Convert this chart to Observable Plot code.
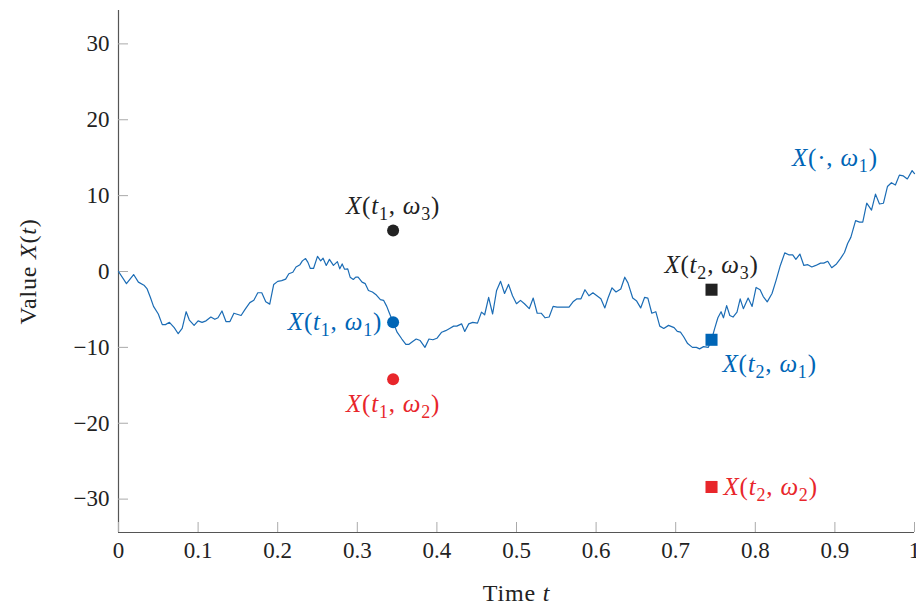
<!DOCTYPE html>
<html><head><meta charset="utf-8">
<script src="https://cdn.jsdelivr.net/npm/d3@7"></script>
<script src="https://cdn.jsdelivr.net/npm/@observablehq/plot@0.6"></script>
<style>body{margin:0;background:#fff}</style>
</head><body><div id="chart"></div>
<script>
// Sample path X(·, ω1)
const pathT = [0,0.010,0.019,0.025,0.032,0.036,0.040,0.044,0.050,0.055,
0.059,0.064,0.070,0.075,0.080,0.085,0.089,0.095,0.100,0.105,
0.110,0.116,0.121,0.125,0.130,0.135,0.140,0.145,0.154,0.159,
0.165,0.170,0.175,0.180,0.185,0.190,0.195,0.200,0.205,0.210,
0.214,0.219,0.223,0.228,0.231,0.235,0.238,0.241,0.245,0.250,
0.254,0.257,0.261,0.265,0.270,0.275,0.278,0.281,0.284,0.288,
0.291,0.295,0.298,0.301,0.306,0.310,0.314,0.319,0.324,0.329,
0.333,0.337,0.340,0.345,0.350,0.356,0.361,0.365,0.370,0.374,
0.379,0.385,0.390,0.395,0.400,0.406,0.411,0.416,0.421,0.425,
0.431,0.435,0.440,0.445,0.451,0.456,0.460,0.465,0.470,0.475,
0.480,0.485,0.490,0.495,0.500,0.505,0.510,0.516,0.521,0.526,
0.531,0.536,0.541,0.546,0.551,0.556,0.561,0.566,0.571,0.576,
0.581,0.586,0.591,0.596,0.601,0.606,0.611,0.615,0.620,0.625,
0.631,0.636,0.640,0.646,0.651,0.656,0.661,0.665,0.670,0.675,
0.680,0.685,0.691,0.698,0.702,0.706,0.710,0.715,0.721,0.726,
0.730,0.735,0.741,0.745,0.749,0.753,0.757,0.760,0.764,0.768,
0.772,0.777,0.781,0.785,0.791,0.796,0.801,0.806,0.810,0.815,
0.821,0.826,0.831,0.837,0.842,0.847,0.851,0.856,0.861,0.866,
0.871,0.876,0.882,0.886,0.891,0.896,0.902,0.907,0.912,0.916,
0.920,0.926,0.931,0.935,0.940,0.946,0.951,0.956,0.961,0.966,
0.971,0.976,0.981,0.986,0.991,0.997,1.0];
const pathV = [0,-1.6,-0.4,-1.4,-1.8,-2.3,-3.4,-4.6,-5.6,-7.0,
-7.0,-6.7,-7.4,-8.2,-7.5,-5.3,-6.4,-7.1,-6.5,-6.7,
-6.5,-6.0,-6.3,-6.1,-5.2,-6.6,-6.6,-5.5,-5.8,-5.0,
-4.1,-3.8,-2.8,-2.8,-4.0,-4.3,-1.7,-1.3,-1.2,-1.0,
-0.3,-0.1,0.6,0.9,1.4,1.7,1.2,0.4,0.4,2.0,
1.4,1.75,0.8,1.6,0.8,1.3,0.35,1.0,0.3,0.35,
-0.75,-1.05,-0.75,-0.75,-1.4,-1.6,-2.5,-2.7,-3.1,-3.7,
-3.8,-4.6,-5.4,-6.7,-8.0,-8.9,-9.6,-9.6,-9.2,-8.9,
-9.1,-10.0,-8.9,-9.0,-8.8,-8.0,-7.8,-7.5,-7.2,-7.2,
-6.9,-7.9,-6.9,-6.7,-6.8,-5.35,-5.7,-3.4,-5.6,-2.5,
-1.3,-2.9,-1.7,-3.2,-4.25,-3.8,-4.25,-4.9,-3.5,-5.5,
-5.5,-6.1,-6.0,-4.6,-4.7,-4.7,-4.7,-4.7,-4.0,-3.6,
-3.6,-2.4,-3.2,-2.8,-3.2,-3.6,-4.8,-3.5,-2.15,-2.7,
-2.3,-0.75,-1.5,-3.5,-3.9,-4.8,-3.4,-3.5,-5.5,-5.3,
-7.2,-7.5,-7.1,-7.4,-7.9,-8.0,-8.6,-9.5,-10.0,-10.0,
-10.2,-9.9,-10.0,-9.0,-7.5,-6.1,-5.3,-6.1,-4.5,-5.8,
-6.0,-5.35,-3.6,-4.9,-3.5,-4.6,-2.1,-2.4,-3.3,-4.0,
-2.9,-1.2,0.65,2.45,2.2,2.2,1.6,2.3,0.8,0.9,
0.6,0.8,1.1,1.1,1.35,0.5,1.0,1.7,2.5,3.7,
4.5,6.7,6.5,6.5,9.0,8.1,10.2,8.9,9.0,11.2,
11.7,11.4,12.7,12.6,12.2,13.3,12.9];

// Highlighted values X(t_i, ω_j)
const markerT = [0.345, 0.345, 0.345, 0.745, 0.745, 0.745];
const markerV = [5.4, -6.7, -14.2, -2.4, -9.0, -28.4];
const markerOmega = ["ω3", "ω1", "ω2", "ω3", "ω1", "ω2"];
const markerShape = ["circle", "circle", "circle", "square", "square", "square"];
const markerLabel = ["X(t₁, ω₃)", "X(t₁, ω₁)", "X(t₁, ω₂)", "X(t₂, ω₃)", "X(t₂, ω₁)", "X(t₂, ω₂)"];
const markerPlacement = ["above", "left", "below", "above", "belowright", "right"];

// Path label
const pathLabel = ["X(·, ω₁)"];
const pathLabelT = [0.9];
const pathLabelV = [15];

// Axes
const xTicks = [0, 0.1, 0.2, 0.3, 0.4, 0.5, 0.6, 0.7, 0.8, 0.9, 1];
const yTicks = [-30, -20, -10, 0, 10, 20, 30];
const xLabel = "Time t";
const yLabel = "Value X(t)";

const colors = {ω1: "#0065b6", ω2: "#e8262b", ω3: "#222222"};
const lineColor = "#1b6cb5";

const path = pathT.map((t, i) => ({t, v: pathV[i]}));
const markers = markerT.map((t, i) => ({t, v: markerV[i], omega: markerOmega[i], shape: markerShape[i], label: markerLabel[i], place: markerPlacement[i]}));
const pathLabels = pathLabel.map((l, i) => ({label: l, t: pathLabelT[i], v: pathLabelV[i]}));

const yDomain = [-34.4, 34.4];
const labelFont = 25;
const tickFont = 23;
const axisFont = 24;
const col = d => colors[d.omega];
const placed = p => markers.filter(d => d.place === p);

const chart = Plot.plot({
  width: 916,
  height: 605,
  marginLeft: 118,
  marginRight: 2,
  marginTop: 10,
  marginBottom: 73,
  style: {fontFamily: "'Liberation Serif', serif", fontSize: "22px", background: "white", color: "#222"},
  x: {domain: [0, 1]},
  y: {domain: yDomain},
  marks: [
    Plot.ruleX([0], {stroke: "#555", strokeWidth: 1.2}),
    Plot.ruleY([yDomain[0]], {stroke: "#555", strokeWidth: 1.2}),
    Plot.axisY({ticks: yTicks, tickSize: 10, text: null, dx: 10, stroke: "#aaa", label: null}),
    Plot.axisY({ticks: yTicks, tickSize: 0, tickPadding: 9, fontSize: tickFont, fill: "#222", label: null}),
    Plot.axisX({ticks: xTicks, tickSize: 10, text: null, dy: -10, stroke: "#aaa", label: null}),
    Plot.axisX({ticks: xTicks, tickSize: 0, tickPadding: 9, fontSize: tickFont, fill: "#222", tickFormat: d3.format("~g"), label: null}),
    Plot.line(path, {x: "t", y: "v", stroke: lineColor, strokeWidth: 1.2}),
    Plot.dot(markers.filter(d => d.shape === "circle"), {x: "t", y: "v", fill: col, r: 6, symbol: "circle"}),
    Plot.dot(markers.filter(d => d.shape === "square"), {x: "t", y: "v", fill: col, r: 6.8, symbol: "square"}),
    Plot.text(placed("above"), {x: "t", y: "v", text: "label", fill: col, dy: -25, fontSize: labelFont}),
    Plot.text(placed("below"), {x: "t", y: "v", text: "label", fill: col, dy: 25, fontSize: labelFont}),
    Plot.text(placed("left"), {x: "t", y: "v", text: "label", fill: col, dx: -11, textAnchor: "end", fontSize: labelFont}),
    Plot.text(placed("right"), {x: "t", y: "v", text: "label", fill: col, dx: 12, textAnchor: "start", fontSize: labelFont}),
    Plot.text(placed("belowright"), {x: "t", y: "v", text: "label", fill: col, dx: 11, dy: 24, textAnchor: "start", fontSize: labelFont}),
    Plot.text(pathLabels, {x: "t", y: "v", text: "label", fill: colors.ω1, fontSize: labelFont}),
    Plot.text([yLabel], {text: d => d, frameAnchor: "left", textAnchor: "middle", lineAnchor: "middle", dx: -90, rotate: -90, fontSize: axisFont, fill: "#222"}),
    Plot.text([xLabel], {text: d => d, frameAnchor: "bottom", textAnchor: "middle", lineAnchor: "middle", dy: 61, fontSize: axisFont, fill: "#222"})
  ]
});

// Typeset math-like: italic variables, small lowered subscripts
const SVGNS = "http://www.w3.org/2000/svg";
function mathify(el) {
  const s = el.textContent;
  if (!/[Xtω₁₂₃]/.test(s)) return;
  el.textContent = "";
  el.setAttribute("letter-spacing", "0.8px");
  const groups = [];
  for (const ch of s) {
    const si = "₁₂₃".indexOf(ch);
    const kind = si >= 0 ? "sub" : ("Xtω".includes(ch) ? "it" : "rm");
    const c = si >= 0 ? String(si + 1) : ch;
    if (groups.length && groups[groups.length - 1].kind === kind) groups[groups.length - 1].text += c;
    else groups.push({kind, text: c});
  }
  let prevSub = false;
  for (const g of groups) {
    const ts = document.createElementNS(SVGNS, "tspan");
    ts.textContent = g.text;
    if (g.kind === "it") ts.setAttribute("font-style", "italic");
    if (g.kind === "sub") { ts.setAttribute("font-size", "72%"); ts.setAttribute("dy", "6"); }
    else if (prevSub) ts.setAttribute("dy", "-6");
    prevSub = g.kind === "sub";
    el.appendChild(ts);
  }
}
chart.querySelectorAll("text").forEach(mathify);
document.getElementById("chart").appendChild(chart);
</script>
</body></html>
